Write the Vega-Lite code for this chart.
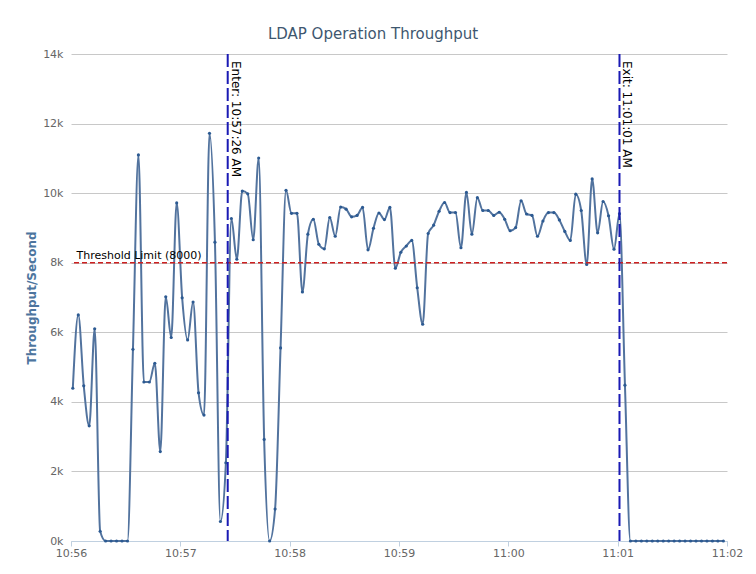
{
  "$schema": "https://vega.github.io/schema/vega-lite/v6.json",
  "autosize": {"type": "none"},
  "width": 656,
  "height": 487,
  "padding": {"left": 71, "top": 54, "right": 29, "bottom": 33},
  "background": "white",
  "title": {
    "text": "LDAP Operation Throughput",
    "font": "DejaVu Sans",
    "fontSize": 15,
    "fontWeight": "normal",
    "color": "#3e576f",
    "offset": 6,
    "dx": -26
  },
  "config": {
    "view": {"stroke": null},
    "font": "DejaVu Sans"
  },
  "datasets": {
    "tp": [
      {"t": "2024-01-01T10:56:01", "v": 4390},
      {"t": "2024-01-01T10:56:04", "v": 6500},
      {"t": "2024-01-01T10:56:07", "v": 4460},
      {"t": "2024-01-01T10:56:10", "v": 3310},
      {"t": "2024-01-01T10:56:13", "v": 6100},
      {"t": "2024-01-01T10:56:16", "v": 280},
      {"t": "2024-01-01T10:56:19", "v": 0},
      {"t": "2024-01-01T10:56:22", "v": 0},
      {"t": "2024-01-01T10:56:25", "v": 0},
      {"t": "2024-01-01T10:56:28", "v": 0},
      {"t": "2024-01-01T10:56:31", "v": 0},
      {"t": "2024-01-01T10:56:34", "v": 5510},
      {"t": "2024-01-01T10:56:37", "v": 11100},
      {"t": "2024-01-01T10:56:40", "v": 4570},
      {"t": "2024-01-01T10:56:43", "v": 4570},
      {"t": "2024-01-01T10:56:46", "v": 5110},
      {"t": "2024-01-01T10:56:49", "v": 2570},
      {"t": "2024-01-01T10:56:52", "v": 7020},
      {"t": "2024-01-01T10:56:55", "v": 5850},
      {"t": "2024-01-01T10:56:58", "v": 9720},
      {"t": "2024-01-01T10:57:01", "v": 6990},
      {"t": "2024-01-01T10:57:04", "v": 5780},
      {"t": "2024-01-01T10:57:07", "v": 6870},
      {"t": "2024-01-01T10:57:10", "v": 4260},
      {"t": "2024-01-01T10:57:13", "v": 3620},
      {"t": "2024-01-01T10:57:16", "v": 11720},
      {"t": "2024-01-01T10:57:19", "v": 8590},
      {"t": "2024-01-01T10:57:22", "v": 560},
      {"t": "2024-01-01T10:57:25", "v": 2250},
      {"t": "2024-01-01T10:57:28", "v": 9270},
      {"t": "2024-01-01T10:57:31", "v": 8100},
      {"t": "2024-01-01T10:57:34", "v": 10060},
      {"t": "2024-01-01T10:57:37", "v": 9980},
      {"t": "2024-01-01T10:57:40", "v": 8660},
      {"t": "2024-01-01T10:57:43", "v": 11010},
      {"t": "2024-01-01T10:57:46", "v": 2920},
      {"t": "2024-01-01T10:57:49", "v": 0},
      {"t": "2024-01-01T10:57:52", "v": 920},
      {"t": "2024-01-01T10:57:55", "v": 5550},
      {"t": "2024-01-01T10:57:58", "v": 10080},
      {"t": "2024-01-01T10:58:01", "v": 9420},
      {"t": "2024-01-01T10:58:04", "v": 9420},
      {"t": "2024-01-01T10:58:07", "v": 7160},
      {"t": "2024-01-01T10:58:10", "v": 8820},
      {"t": "2024-01-01T10:58:13", "v": 9250},
      {"t": "2024-01-01T10:58:16", "v": 8530},
      {"t": "2024-01-01T10:58:19", "v": 8400},
      {"t": "2024-01-01T10:58:22", "v": 9300},
      {"t": "2024-01-01T10:58:25", "v": 8760},
      {"t": "2024-01-01T10:58:28", "v": 9600},
      {"t": "2024-01-01T10:58:31", "v": 9540},
      {"t": "2024-01-01T10:58:34", "v": 9320},
      {"t": "2024-01-01T10:58:37", "v": 9360},
      {"t": "2024-01-01T10:58:40", "v": 9590},
      {"t": "2024-01-01T10:58:43", "v": 8370},
      {"t": "2024-01-01T10:58:46", "v": 8990},
      {"t": "2024-01-01T10:58:49", "v": 9430},
      {"t": "2024-01-01T10:58:52", "v": 9240},
      {"t": "2024-01-01T10:58:55", "v": 9590},
      {"t": "2024-01-01T10:58:58", "v": 7840},
      {"t": "2024-01-01T10:59:01", "v": 8300},
      {"t": "2024-01-01T10:59:04", "v": 8480},
      {"t": "2024-01-01T10:59:07", "v": 8640},
      {"t": "2024-01-01T10:59:10", "v": 7280},
      {"t": "2024-01-01T10:59:13", "v": 6230},
      {"t": "2024-01-01T10:59:16", "v": 8840},
      {"t": "2024-01-01T10:59:19", "v": 9080},
      {"t": "2024-01-01T10:59:22", "v": 9480},
      {"t": "2024-01-01T10:59:25", "v": 9730},
      {"t": "2024-01-01T10:59:28", "v": 9440},
      {"t": "2024-01-01T10:59:31", "v": 9440},
      {"t": "2024-01-01T10:59:34", "v": 8430},
      {"t": "2024-01-01T10:59:37", "v": 10020},
      {"t": "2024-01-01T10:59:40", "v": 8820},
      {"t": "2024-01-01T10:59:43", "v": 9870},
      {"t": "2024-01-01T10:59:46", "v": 9500},
      {"t": "2024-01-01T10:59:49", "v": 9500},
      {"t": "2024-01-01T10:59:52", "v": 9360},
      {"t": "2024-01-01T10:59:55", "v": 9450},
      {"t": "2024-01-01T10:59:58", "v": 9250},
      {"t": "2024-01-01T11:00:01", "v": 8920},
      {"t": "2024-01-01T11:00:04", "v": 9010},
      {"t": "2024-01-01T11:00:07", "v": 9780},
      {"t": "2024-01-01T11:00:10", "v": 9400},
      {"t": "2024-01-01T11:00:13", "v": 9360},
      {"t": "2024-01-01T11:00:16", "v": 8760},
      {"t": "2024-01-01T11:00:19", "v": 9200},
      {"t": "2024-01-01T11:00:22", "v": 9440},
      {"t": "2024-01-01T11:00:25", "v": 9440},
      {"t": "2024-01-01T11:00:28", "v": 9230},
      {"t": "2024-01-01T11:00:31", "v": 8900},
      {"t": "2024-01-01T11:00:34", "v": 8640},
      {"t": "2024-01-01T11:00:37", "v": 9970},
      {"t": "2024-01-01T11:00:40", "v": 9500},
      {"t": "2024-01-01T11:00:43", "v": 7950},
      {"t": "2024-01-01T11:00:46", "v": 10410},
      {"t": "2024-01-01T11:00:49", "v": 8860},
      {"t": "2024-01-01T11:00:52", "v": 9760},
      {"t": "2024-01-01T11:00:55", "v": 9350},
      {"t": "2024-01-01T11:00:58", "v": 8390},
      {"t": "2024-01-01T11:01:01", "v": 9410},
      {"t": "2024-01-01T11:01:04", "v": 4480},
      {"t": "2024-01-01T11:01:07", "v": 0},
      {"t": "2024-01-01T11:01:10", "v": 0},
      {"t": "2024-01-01T11:01:13", "v": 0},
      {"t": "2024-01-01T11:01:16", "v": 0},
      {"t": "2024-01-01T11:01:19", "v": 0},
      {"t": "2024-01-01T11:01:22", "v": 0},
      {"t": "2024-01-01T11:01:25", "v": 0},
      {"t": "2024-01-01T11:01:28", "v": 0},
      {"t": "2024-01-01T11:01:31", "v": 0},
      {"t": "2024-01-01T11:01:34", "v": 0},
      {"t": "2024-01-01T11:01:37", "v": 0},
      {"t": "2024-01-01T11:01:40", "v": 0},
      {"t": "2024-01-01T11:01:43", "v": 0},
      {"t": "2024-01-01T11:01:46", "v": 0},
      {"t": "2024-01-01T11:01:49", "v": 0},
      {"t": "2024-01-01T11:01:52", "v": 0},
      {"t": "2024-01-01T11:01:55", "v": 0},
      {"t": "2024-01-01T11:01:58", "v": 0}
    ],
    "thr": [{"t": "2024-01-01T10:56:03", "v": 8000, "label": "Threshold Limit (8000)"}],
    "marks": [
      {"t": "2024-01-01T10:57:26", "v": 14000, "label": "Enter: 10:57:26 AM"},
      {"t": "2024-01-01T11:01:01", "v": 14000, "label": "Exit: 11:01:01 AM"}
    ]
  },
  "layer": [
    {
      "data": {"name": "tp"},
      "mark": {
        "type": "line",
        "interpolate": "monotone",
        "color": "#52739e",
        "strokeWidth": 2,
        "point": {"filled": true, "size": 10, "color": "#2c5a92"}
      },
      "encoding": {
        "x": {
          "field": "t",
          "type": "temporal",
          "scale": {
            "domain": [
              {"year": 2024, "month": 1, "date": 1, "hours": 10, "minutes": 56},
              {"year": 2024, "month": 1, "date": 1, "hours": 11, "minutes": 2}
            ]
          },
          "axis": {
            "title": null,
            "format": "%H:%M",
            "values": [
              {"year": 2024, "month": 1, "date": 1, "hours": 10, "minutes": 56},
              {"year": 2024, "month": 1, "date": 1, "hours": 10, "minutes": 57},
              {"year": 2024, "month": 1, "date": 1, "hours": 10, "minutes": 58},
              {"year": 2024, "month": 1, "date": 1, "hours": 10, "minutes": 59},
              {"year": 2024, "month": 1, "date": 1, "hours": 11, "minutes": 0},
              {"year": 2024, "month": 1, "date": 1, "hours": 11, "minutes": 1},
              {"year": 2024, "month": 1, "date": 1, "hours": 11, "minutes": 2}
            ],
            "grid": false,
            "domainColor": "#c0d0e0",
            "domainWidth": 1,
            "tickColor": "#c0d0e0",
            "tickSize": 5,
            "labelColor": "#666666",
            "labelFontSize": 11,
            "labelFont": "DejaVu Sans",
            "labelPadding": 1,
            "labelFlush": false
          }
        },
        "y": {
          "field": "v",
          "type": "quantitative",
          "scale": {"domain": [0, 14000], "nice": false},
          "axis": {
            "title": "Throughput/Second",
            "titleFont": "DejaVu Sans",
            "titleFontSize": 12,
            "titleFontWeight": "bold",
            "titleColor": "#4d759e",
            "titlePadding": 4,
            "values": [0, 2000, 4000, 6000, 8000, 10000, 12000, 14000],
            "labelExpr": "(datum.value / 1000) + 'k'",
            "labelColor": "#666666",
            "labelFontSize": 11,
            "labelFont": "DejaVu Sans",
            "labelPadding": 8,
            "domain": false,
            "ticks": false,
            "gridColor": "#c8c8c8",
            "gridWidth": 1
          }
        }
      }
    },
    {
      "data": {"name": "thr"},
      "mark": {"type": "rule", "color": "#cc2020", "strokeWidth": 1.5, "strokeDash": [5, 3]},
      "encoding": {"y": {"field": "v", "type": "quantitative"}}
    },
    {
      "data": {"name": "thr"},
      "mark": {"type": "text", "align": "left", "baseline": "bottom", "dy": -2, "fontSize": 11, "color": "#000000", "font": "DejaVu Sans"},
      "encoding": {
        "x": {"field": "t", "type": "temporal"},
        "y": {"field": "v", "type": "quantitative"},
        "text": {"field": "label"}
      }
    },
    {
      "data": {"name": "marks"},
      "mark": {"type": "rule", "color": "#1a1ab4", "strokeWidth": 2, "strokeDash": [13, 4]},
      "encoding": {"x": {"field": "t", "type": "temporal"}}
    },
    {
      "data": {"name": "marks"},
      "mark": {"type": "text", "angle": 90, "align": "left", "baseline": "bottom", "dx": 7, "dy": -1, "fontSize": 12, "color": "#000000", "font": "DejaVu Sans"},
      "encoding": {
        "x": {"field": "t", "type": "temporal"},
        "y": {"field": "v", "type": "quantitative"},
        "text": {"field": "label"}
      }
    }
  ]
}
